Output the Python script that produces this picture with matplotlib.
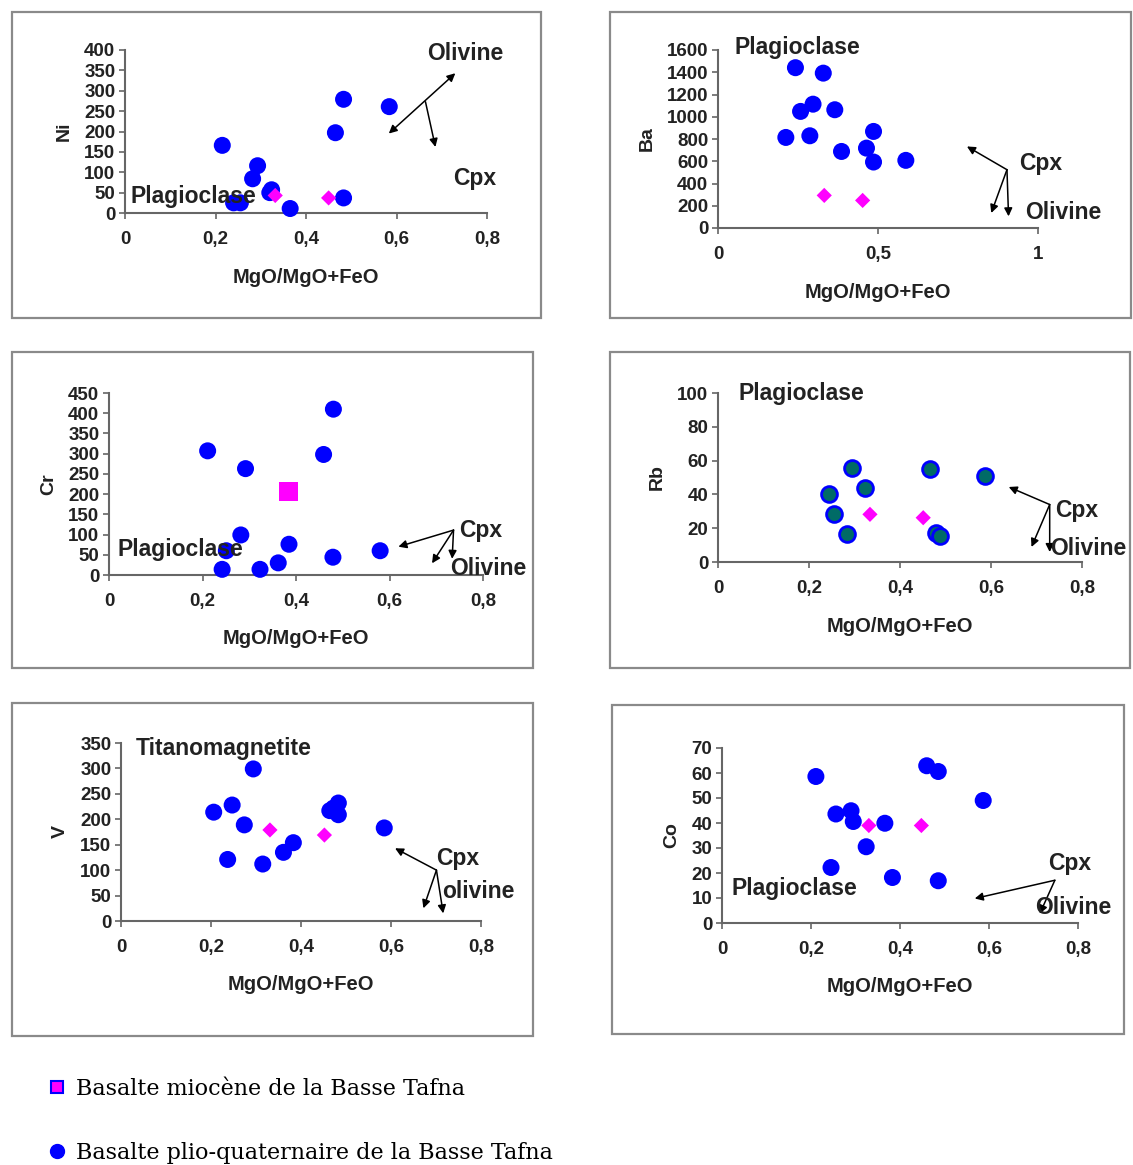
import matplotlib
matplotlib.use("Agg")
import matplotlib.pyplot as plt
from matplotlib.patches import Rectangle
from matplotlib.lines import Line2D

W, H = 1133, 1165

# --- data ---
x_ticks = [0, 0.2, 0.4, 0.6, 0.8]
x_labels = ["0", "0,2", "0,4", "0,6", "0,8"]
ba_x_ticks = [0, 0.5, 1]
ba_x_labels = ["0", "0,5", "1"]

# Ni
ni_x = [0.215, 0.240, 0.255, 0.282, 0.293, 0.324, 0.320, 0.365, 0.465, 0.483, 0.483, 0.584]
ni_y = [166, 25, 25, 84, 116, 57, 50, 11, 197, 279, 37, 261]
ni_mx = [0.332, 0.450]
ni_my = [43, 37]

# Ba
ba_x = [0.242, 0.329, 0.297, 0.258, 0.365, 0.212, 0.287, 0.486, 0.386, 0.464, 0.486, 0.587]
ba_y = [1441, 1392, 1113, 1048, 1063, 814, 829, 868, 688, 718, 593, 608]
ba_mx = [0.332, 0.452]
ba_my = [293, 248]

# Cr
cr_x = [0.211, 0.292, 0.459, 0.480, 0.282, 0.251, 0.242, 0.323, 0.362, 0.385, 0.479, 0.580]
cr_y = [307, 263, 298, 410, 99, 60, 14, 14, 30, 76, 44, 60]
cr_mx = [0.384]
cr_my = [206]

# Rb
rb_x = [0.294, 0.466, 0.586, 0.244, 0.324, 0.254, 0.284, 0.480, 0.488]
rb_y = [55.6, 54.8, 50.9, 40.0, 43.8, 28.2, 16.4, 17.4, 15.4]
rb_mx = [0.334, 0.451]
rb_my = [28.2, 26.2]

# V
v_x = [0.294, 0.206, 0.247, 0.274, 0.237, 0.315, 0.361, 0.383, 0.464, 0.483, 0.483, 0.472, 0.585]
v_y = [299, 214, 228, 189, 121, 112, 135, 154, 217, 232, 209, 222, 183]
v_mx = [0.331, 0.452]
v_my = [179, 169]

# Co
co_x = [0.211, 0.256, 0.290, 0.295, 0.245, 0.324, 0.366, 0.383, 0.460, 0.486, 0.486, 0.587]
co_y = [58.6, 43.6, 44.9, 40.6, 22.2, 30.5, 39.9, 18.2, 62.9, 60.6, 16.9, 49.0]
co_mx = [0.330, 0.448]
co_my = [39, 39]

legend_labels = ["Basalte miocène de la Basse Tafna",
                 "Basalte plio-quaternaire de la Basse Tafna"]

BLUE = "#0000FF"
MAG = "#FF00FF"
TXT = "#222222"
AX = "#666666"
SANS = "Liberation Sans"

fig = plt.figure(figsize=(W / 100, H / 100), dpi=100)


def frame(x0, y0, x1, y1):
    fig.patches.append(Rectangle((x0 / W, 1 - y1 / H), (x1 - x0) / W, (y1 - y0) / H,
                                 transform=fig.transFigure, fill=False,
                                 edgecolor="#8a8a8a", lw=1.6))


def panel(l, r, b, t, ylab, ymax, ystep, xt=x_ticks, xl=x_labels, xmax=0.8):
    ax = fig.add_axes([l / W, 1 - b / H, (r - l) / W, (b - t) / H])
    ax.set_xlim(0, xmax)
    ax.set_ylim(0, ymax)
    for s in ["top", "right"]:
        ax.spines[s].set_visible(False)
    for s in ["left", "bottom"]:
        ax.spines[s].set_color(AX)
        ax.spines[s].set_linewidth(1.5)
    ax.set_xticks(xt)
    ax.set_xticklabels(xl)
    yt = list(range(0, ymax + 1, ystep))
    ax.set_yticks(yt)
    ax.set_yticklabels([str(v) for v in yt])
    ax.tick_params(direction="out", length=4, width=1.2, color=AX,
                   labelsize=13.5, labelcolor=TXT, pad=3)
    ax.tick_params(axis="x", pad=9)
    for lab in ax.get_xticklabels() + ax.get_yticklabels():
        lab.set_fontfamily(SANS)
        lab.set_fontweight("bold")
    ax.set_xlabel("MgO/MgO+FeO", fontsize=14.5, fontweight="bold", family=SANS,
                  color=TXT, labelpad=14)
    ax.set_ylabel(ylab, fontsize=14, fontweight="bold", family=SANS,
                  color=TXT, labelpad=8)
    ax.patch.set_alpha(0)
    return ax


def label(ax, x, y, s, **kw):
    ax.text(x, y, s, fontsize=16.5, fontweight="bold", family=SANS, color=TXT,
            va="center", ha="left", clip_on=False, zorder=5, **kw)


def arrow(ax, x0, y0, x1, y1, style="-|>"):
    ax.annotate("", xy=(x1, y1), xytext=(x0, y0), annotation_clip=False,
                arrowprops=dict(arrowstyle=style, color="black", lw=1.1,
                                mutation_scale=12, shrinkA=0, shrinkB=0))


def blue(ax, x, y):
    ax.scatter(x, y, s=150, c=BLUE, edgecolors="none", zorder=3, clip_on=False)


def diamonds(ax, x, y):
    ax.scatter(x, y, s=60, c=MAG, marker="D", edgecolors="none", zorder=4, clip_on=False)


# frames
frame(12, 12, 541, 318)
frame(610, 12, 1131, 318)
frame(12, 352, 533, 668)
frame(610, 352, 1130, 668)
frame(12, 703, 533, 1036)
frame(612, 705, 1124, 1034)

# Ni
ax = panel(125, 487, 213, 50, "Ni", 400, 50)
blue(ax, ni_x, ni_y)
diamonds(ax, ni_mx, ni_my)
label(ax, 0.013, 40, "Plagioclase")
label(ax, 0.667, 392, "Olivine")
label(ax, 0.726, 85, "Cpx")
arrow(ax, 0.583, 195, 0.730, 343, "<|-|>")
arrow(ax, 0.664, 273, 0.686, 162)

# Ba
ax = panel(718, 1038, 228, 50, "Ba", 1600, 200, ba_x_ticks, ba_x_labels, 1.0)
blue(ax, ba_x, ba_y)
diamonds(ax, ba_mx, ba_my)
label(ax, 0.05, 1620, "Plagioclase")
label(ax, 0.94, 583, "Cpx")
label(ax, 0.96, 135, "Olivine")
arrow(ax, 0.903, 524, 0.778, 733)
arrow(ax, 0.903, 524, 0.854, 135)
arrow(ax, 0.903, 524, 0.908, 105)

# Cr
ax = panel(109, 483, 575, 393, "Cr", 450, 50)
blue(ax, cr_x, cr_y)
ax.scatter(cr_mx, cr_my, s=190, c=MAG, marker="s", edgecolors="none", zorder=4)
label(ax, 0.019, 63, "Plagioclase")
label(ax, 0.748, 111, "Cpx")
label(ax, 0.73, 15, "Olivine")
arrow(ax, 0.737, 111, 0.619, 70)
arrow(ax, 0.737, 111, 0.691, 29)
arrow(ax, 0.737, 111, 0.734, 40)

# Rb
ax = panel(718, 1082, 562, 393, "Rb", 100, 20)
ax.scatter(rb_x, rb_y, s=130, c="#006b66", edgecolors=BLUE, linewidths=2, zorder=3)
diamonds(ax, rb_mx, rb_my)
label(ax, 0.045, 99.6, "Plagioclase")
label(ax, 0.74, 30.6, "Cpx")
label(ax, 0.729, 7.9, "Olivine")
arrow(ax, 0.729, 34, 0.639, 44.4)
arrow(ax, 0.729, 34, 0.689, 8.9)
arrow(ax, 0.729, 34, 0.729, 5.9)

# V
ax = panel(121, 481, 921, 743, "V", 350, 50)
blue(ax, v_x, v_y)
diamonds(ax, v_mx, v_my)
label(ax, 0.033, 340, "Titanomagnetite")
label(ax, 0.701, 123, "Cpx")
label(ax, 0.713, 58, "olivine")
arrow(ax, 0.701, 100, 0.609, 143)
arrow(ax, 0.701, 100, 0.672, 25)
arrow(ax, 0.701, 100, 0.716, 15)

# Co
ax = panel(722, 1078, 923, 748, "Co", 70, 10)
blue(ax, co_x, co_y)
diamonds(ax, co_mx, co_my)
label(ax, 0.021, 13.8, "Plagioclase")
label(ax, 0.733, 23.8, "Cpx")
label(ax, 0.703, 6.4, "Olivine")
arrow(ax, 0.748, 17.1, 0.568, 9.8)
arrow(ax, 0.748, 17.1, 0.714, 3.7)

# legend
handles = [Line2D([], [], ls="none", marker="s", markersize=8, markerfacecolor=MAG,
                  markeredgecolor=BLUE, markeredgewidth=1.5),
           Line2D([], [], ls="none", marker="o", markersize=10, markerfacecolor=BLUE,
                  markeredgecolor=BLUE)]
fig.legend(handles, legend_labels, loc="upper left", bbox_to_anchor=(26 / W, 1 - 1058 / H),
           frameon=False, labelspacing=1.9, handletextpad=0.35, handlelength=1.0,
           prop={"family": "DejaVu Serif", "size": 16})

fig.savefig("out.png", dpi=100)
